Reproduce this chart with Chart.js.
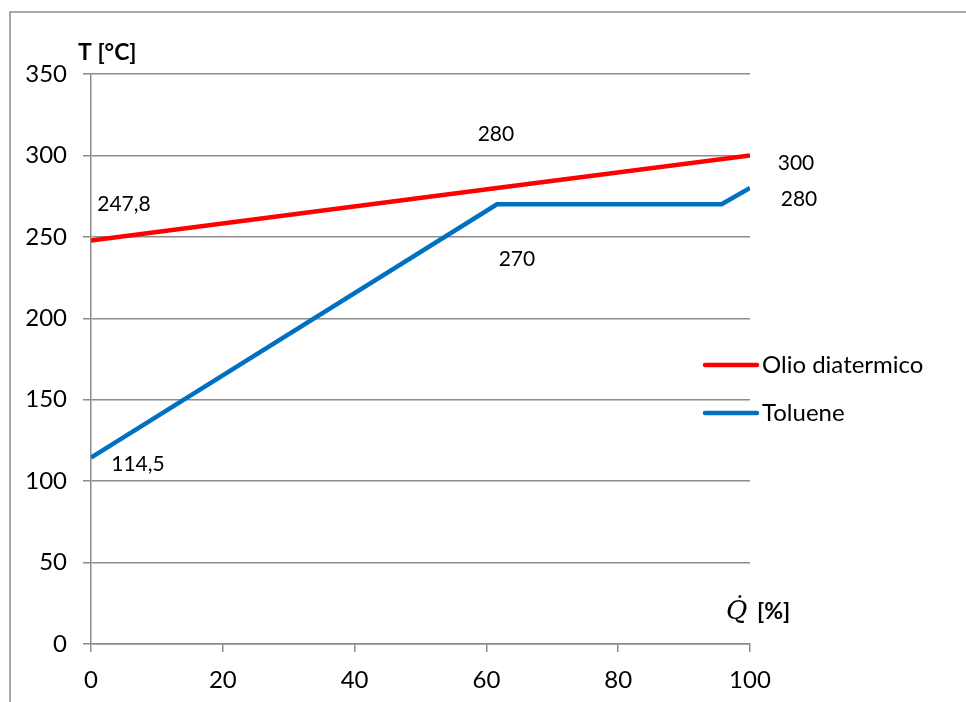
<!DOCTYPE html>
<html>
<head>
<meta charset="utf-8">
<title>Temperature profile</title>
<script src="https://cdn.jsdelivr.net/npm/chart.js@4"></script>
<style>
  html, body { margin: 0; padding: 0; background: #fff; }
  canvas { display: block; }
</style>
</head>
<body>
<canvas id="chart" width="966" height="702"></canvas>
<script>
// heat exchanged Q [%] and temperatures T [°C]
const oilQ = [0, 61.6, 100];
const oilT = [247.8, 280, 300];
const tolQ = [0, 61.6, 95.7, 100];
const tolT = [114.5, 270, 270, 280];

const seriesNames = ["Olio diatermico", "Toluene"];
const yTicks = [0, 50, 100, 150, 200, 250, 300, 350];
const xTicks = [0, 20, 40, 60, 80, 100];

// which points get a value label, and where it sits relative to the point
const oilLabelShift = [[33, -36], [-1, -54], [46, 8]];
const tolLabelShift = [[47, 7], [20, 55], null, [49, 11]];

const GRID = "#8c8c8c";
const FONT = "Lato, 'Open Sans', sans-serif";

function toPoints(xs, ys) {
    return xs.map((x, i) => ({ x: x, y: ys[i] }));
}

function fmt(v) {
    return String(v).replace(".", ",");
}

// value labels, axis titles, legend and the outer frame
const decorations = {
    id: "decorations",
    afterDatasetsDraw(chart) {
        const ctx = chart.ctx;
        const shifts = [oilLabelShift, tolLabelShift];

        ctx.save();
        ctx.fillStyle = "#000";
        ctx.font = "21px " + FONT;
        ctx.textAlign = "center";
        ctx.textBaseline = "middle";
        chart.data.datasets.forEach((ds, di) => {
            const meta = chart.getDatasetMeta(di);
            meta.data.forEach((pt, i) => {
                const s = shifts[di][i];
                if (!s) return;
                ctx.fillText(fmt(ds.data[i].y), pt.x + s[0], pt.y + s[1]);
            });
        });

        // y title
        ctx.textAlign = "left";
        ctx.font = "bold 23px " + FONT;
        ctx.fillText("T [°C]", 78, 53);

        // x title: italic Q with a dot, then the unit
        ctx.font = "italic 26px 'DejaVu Serif', serif";
        ctx.fillText("Q\u0307", 726, 612);
        ctx.font = "bold 23px " + FONT;
        ctx.fillText("[%]", 757, 612);

        // legend
        ctx.lineCap = "round";
        ctx.lineWidth = 4.5;
        chart.data.datasets.forEach((ds, di) => {
            const y = 365 + di * 48;
            ctx.strokeStyle = ds.borderColor;
            ctx.beginPath();
            ctx.moveTo(705, y);
            ctx.lineTo(757, y);
            ctx.stroke();
            ctx.font = "24px " + FONT;
            ctx.fillText(ds.label, 762, y);
        });

        // outer frame
        ctx.lineCap = "butt";
        ctx.strokeStyle = GRID;
        ctx.lineWidth = 1.5;
        ctx.beginPath();
        ctx.moveTo(10, 702);
        ctx.lineTo(10, 12);
        ctx.lineTo(966, 12);
        ctx.stroke();
        ctx.restore();
    }
};

const ctx = document.getElementById("chart").getContext("2d");
new Chart(ctx, {
    type: "scatter",
    data: {
        datasets: [
            {
                label: seriesNames[0],
                data: toPoints(oilQ, oilT),
                showLine: true,
                borderColor: "#ff0000",
                borderWidth: 4.5,
                pointRadius: 0,
                tension: 0
            },
            {
                label: seriesNames[1],
                data: toPoints(tolQ, tolT),
                showLine: true,
                borderColor: "#0070c0",
                borderWidth: 4.5,
                pointRadius: 0,
                tension: 0
            }
        ]
    },
    options: {
        responsive: false,
        animation: false,
        layout: { padding: { left: 0, top: 74, right: 216, bottom: 0 } },
        plugins: {
            legend: { display: false },
            tooltip: { enabled: false }
        },
        scales: {
            x: {
                type: "linear",
                min: 0,
                max: 100,
                afterBuildTicks: (scale) => { scale.ticks = xTicks.map(v => ({ value: v })); },
                afterFit: (scale) => { scale.height = 58; },
                grid: { color: "transparent", tickColor: GRID, tickLength: 8, lineWidth: 1.5 },
                border: { color: GRID, width: 1.5 },
                ticks: { color: "#000", font: { family: FONT, size: 24 }, padding: 14, maxRotation: 0 }
            },
            y: {
                min: 0,
                max: 350,
                afterBuildTicks: (scale) => { scale.ticks = yTicks.map(v => ({ value: v })); },
                afterFit: (scale) => { scale.width = 91; },
                grid: { color: GRID, tickColor: GRID, tickLength: 8, lineWidth: 1.5 },
                border: { color: GRID, width: 1.5 },
                ticks: { color: "#000", font: { family: FONT, size: 24 }, padding: 16 }
            }
        }
    },
    plugins: [decorations]
});
</script>
</body>
</html>
